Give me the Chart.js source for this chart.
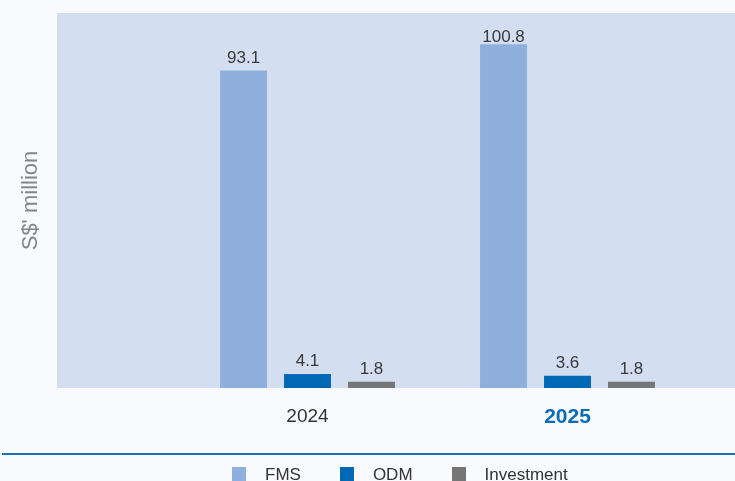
<!DOCTYPE html>
<html>
<head>
<meta charset="utf-8">
<script src="https://cdn.jsdelivr.net/npm/chart.js@4/dist/chart.umd.min.js"></script>
<style>
  body { margin:0; width:735px; height:481px; overflow:hidden; background:#f9fafd; position:relative; font-family:"Liberation Sans", Arial, sans-serif; }
  #panel { position:absolute; left:57px; top:13px; width:678px; height:375px; background:#d3def0; }
  #rule { position:absolute; left:2px; top:453px; width:733px; height:2px; background:#1b6fb8; }
  #chart { position:absolute; left:0; top:0; }
  #legend { position:absolute; left:232px; top:466px; display:flex; }
  #legend .item { display:flex; align-items:flex-start; margin-right:39px; }
  #legend .box { width:14px; height:14px; margin-top:1px; margin-right:19px; }
  #legend .txt { font-size:17px; line-height:17px; color:#333; }
</style>
</head>
<body>
<div id="panel"></div>
<div id="rule"></div>
<canvas id="chart" width="735" height="481"></canvas>
<div id="legend"></div>
<script>
const years = ["2024", "2025"];
const seriesNames = ["FMS", "ODM", "Investment"];
const fms = [93.1, 100.8];
const odm = [4.1, 3.6];
const investment = [1.8, 1.8];
const colors = ["#8fb0dc", "#0068b4", "#767676"];

const font = '"Liberation Sans", Arial, sans-serif';

// value labels above each bar, kept inside the plot at the top
const valueLabels = {
    id: "valueLabels",
    afterDatasetsDraw(chart){
        const ctx = chart.ctx;
        const minY = chart.chartArea.top + 29;
        ctx.save();
        ctx.font = "17px " + font;
        ctx.fillStyle = "#3a3a3a";
        ctx.textAlign = "center";
        ctx.textBaseline = "alphabetic";
        chart.data.datasets.forEach((ds,i)=>{
            chart.getDatasetMeta(i).data.forEach((bar,j)=>{
                ctx.fillText(ds.data[j].toFixed(1), bar.x, Math.max(bar.y - 8, minY));
            });
        });
        ctx.restore();
    }
};

const chart = new Chart(document.getElementById("chart"), {
    type: "bar",
    data: {
        labels: years,
        datasets: [
            { label: seriesNames[0], data: fms, backgroundColor: colors[0] },
            { label: seriesNames[1], data: odm, backgroundColor: colors[1] },
            { label: seriesNames[2], data: investment, backgroundColor: colors[2] }
        ]
    },
    options: {
        responsive: false,
        animation: false,
        categoryPercentage: 0.738,
        barPercentage: 0.734,
        layout: { padding: { left: 14, right: 37.5, top: 13, bottom: 0 } },
        plugins: { legend: { display: false }, tooltip: { enabled: false } },
        scales: {
            x: {
                grid: { display: false },
                border: { display: false },
                afterFit: s => { s.height = 93; },
                ticks: {
                    padding: 9,
                    color: c => c.index === 1 ? "#0a6bb5" : "#333333",
                    font: c => c.index === 1
                        ? { family: font, size: 21, weight: "bold" }
                        : { family: font, size: 19, weight: "normal" }
                }
            },
            y: {
                min: 0,
                max: 110,
                grid: { display: false },
                border: { display: false },
                ticks: { display: false },
                afterFit: s => { s.width = 163.5; },
                title: {
                    display: true,
                    text: "S$' million",
                    color: "#868686",
                    font: { family: font, size: 22 }
                }
            }
        }
    },
    plugins: [valueLabels]
});

// legend from the series names and colours
const legend = document.getElementById("legend");
seriesNames.forEach((name,i)=>{
    legend.innerHTML += `<div class="item"><div class="box" style="background:${colors[i]}"></div><div class="txt">${name}</div></div>`;
});
</script>
</body>
</html>
